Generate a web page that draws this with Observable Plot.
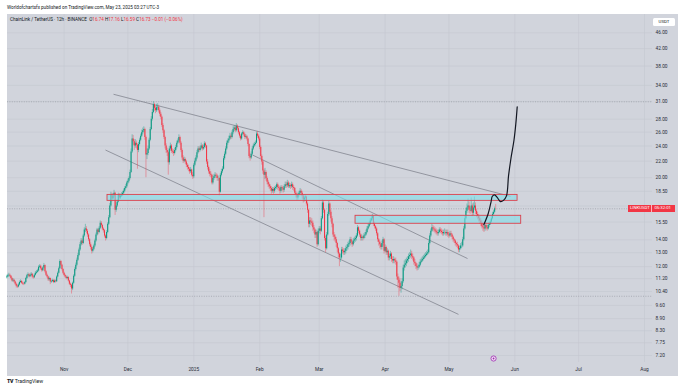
<!DOCTYPE html>
<html><head><meta charset="utf-8">
<script src="https://cdn.jsdelivr.net/npm/d3@7"></script>
<script src="https://cdn.jsdelivr.net/npm/@observablehq/plot@0.6"></script>
<style>
html,body{margin:0;padding:0;background:#fff;}
body{width:687px;height:387px;position:relative;overflow:hidden;font-family:Roboto,"Liberation Sans",sans-serif;color:#131722;}
#pub{position:absolute;left:7px;top:5px;font-size:4.6px;line-height:6px;white-space:nowrap;color:#131722;}
#chart{position:absolute;left:7px;top:14px;width:671px;height:362px;}
#legend{position:absolute;left:10px;top:17px;font-size:4.6px;line-height:6px;white-space:nowrap;color:#131722;}
#legend .red{color:#f23645;}
#usdt{position:absolute;left:653px;top:17.5px;width:22px;height:8.5px;background:#fff;border-radius:1.5px;font-size:4.4px;line-height:8.5px;text-align:center;color:#131722;}
#plabel{position:absolute;left:628px;width:47px;height:6.6px;background:#f23645;color:#fff;font-size:4.3px;line-height:6.6px;white-space:nowrap;display:flex;}
#plabel span{display:block;padding-left:2px;}
#plabel span+span{border-left:0.5px solid #ffb3ba;margin-left:1.5px;}
#foot{position:absolute;left:7px;top:378px;font-size:5.2px;line-height:7px;white-space:nowrap;color:#131722;}
#foot b{font-weight:900;letter-spacing:-0.3px;margin-right:1.5px;}
</style></head>
<body>
<div id="pub">Worldofchartsfx published on TradingView.com, May 23, 2025 03:27 UTC-3</div>
<div id="chart"></div>
<div id="legend"></div>
<div id="usdt">USDT</div>
<div id="plabel"></div>
<div id="foot"><b>TV</b>TradingView</div>
<script>
// ---------- data: 12h candles, LINK/USDT (BINANCE) ----------
const firstOpen = 11.25;
const closeOct = [11.30,11.38,11.42,11.35,11.20,11.05,11.10,10.98,10.85,10.72,
10.68,10.80,10.95,11.02,10.90,10.86,10.84,10.95,11.20,11.38,
11.45,11.32,11.40,11.48,11.30,11.25,11.42,11.55,11.62,11.70,
11.95,12.02,11.85,11.72,11.90,12.08,11.65,11.42,11.30,11.12,
11.20,10.98,11.02,11.08,10.96,11.05,11.00,11.30,11.55,11.85,
12.35,12.10,11.80,11.55];
const highOct = [11.42,11.48,11.55,11.50,11.40,11.28,11.20,11.16,11.04,10.92,
10.80,10.88,11.05,11.12,11.08,10.98,10.94,11.02,11.28,11.48,
11.58,11.52,11.50,11.60,11.54,11.38,11.50,11.66,11.74,11.82,
12.06,12.14,12.10,11.92,11.98,12.22,12.12,11.72,11.50,11.36,
11.30,11.24,11.10,11.16,11.14,11.12,11.12,11.38,11.64,11.96,
12.48,12.42,12.16,11.86];
const lowOct = [11.18,11.24,11.30,11.26,11.12,10.98,10.96,10.90,10.76,10.62,
10.58,10.62,10.74,10.90,10.84,10.78,10.76,10.80,10.90,11.14,
11.30,11.24,11.26,11.34,11.22,11.16,11.20,11.36,11.48,11.56,
11.64,11.88,11.76,11.62,11.66,11.84,11.56,11.34,11.22,11.02,
11.04,10.82,10.90,10.96,10.88,10.90,10.92,10.96,11.24,11.50,
11.80,12.00,11.70,11.46];

const closeNov = [11.40,11.30,11.20,11.28,11.05,10.85,10.78,10.55,10.90,11.35,
11.80,12.10,12.45,12.80,13.20,13.60,13.90,13.70,14.30,14.80,
14.90,14.70,14.40,14.00,13.60,13.40,13.10,13.25,13.50,13.90,
14.40,14.80,14.60,14.95,15.40,15.20,14.90,14.75,14.30,14.10,
14.60,15.30,15.90,17.00,18.10,17.70,18.00,18.30,16.60,17.00,
17.40,18.10,17.80,18.00,18.10,18.30,18.50,18.80,19.00,19.40];
const highNov = [11.62,11.48,11.38,11.36,11.32,11.10,10.92,10.84,10.98,11.45,
11.92,12.25,12.60,12.95,13.35,13.78,14.10,14.05,14.45,15.00,
15.30,15.10,14.85,14.50,14.10,13.75,13.50,13.40,13.65,14.05,
14.55,14.95,14.90,15.10,15.60,15.55,15.30,15.00,14.85,14.40,
14.75,15.45,16.10,17.25,18.40,18.30,18.25,18.60,18.40,17.30,
17.60,18.30,18.25,18.20,18.35,18.50,18.75,19.00,19.25,19.60];
const lowNov = [11.32,11.22,11.12,11.14,10.98,10.76,10.64,10.25,10.45,10.84,
11.28,11.70,12.00,12.36,12.70,13.10,13.50,13.55,13.62,14.20,
14.60,14.50,14.20,13.85,13.45,13.20,12.90,12.98,13.15,13.40,
13.80,14.30,14.40,14.50,14.85,15.05,14.75,14.55,14.15,13.90,
14.00,14.50,15.20,15.80,16.90,17.40,17.50,17.80,16.10,16.40,
16.85,17.30,17.60,17.65,17.85,17.95,18.15,18.35,18.65,18.85];

const closeDec = [19.60,19.90,20.60,23.20,25.00,24.60,24.00,24.40,24.10,23.40,
24.20,24.80,25.40,25.90,26.20,26.40,25.20,22.80,23.00,23.60,
24.80,26.40,28.00,29.10,30.40,29.80,29.40,29.90,30.00,29.40,
28.80,28.30,27.00,26.20,25.20,24.00,23.40,23.10,21.80,23.60,
24.00,23.30,23.20,23.00,23.40,23.80,24.40,24.70,25.20,24.40,
23.40,22.40,22.00,22.20,21.90,21.50,21.20,21.00,20.70,20.90,
20.30,20.10];
const highDec = [19.85,20.10,20.90,23.60,25.60,25.50,24.90,24.90,24.70,24.30,
24.50,25.10,25.70,26.30,26.60,26.80,26.60,25.40,23.60,24.00,
25.10,26.70,28.40,29.60,30.94,30.70,30.20,30.50,30.60,30.30,
29.70,29.10,28.50,27.30,26.40,25.40,24.30,23.70,23.30,23.90,
24.40,24.20,23.60,23.50,23.70,24.10,24.70,25.00,25.60,25.40,
24.60,23.60,22.70,22.50,22.40,22.10,21.70,21.50,21.20,21.20,
21.00,20.60];
const lowDec = [19.20,19.40,19.75,20.50,23.00,24.10,23.40,23.70,23.60,21.00,
23.10,24.00,24.60,25.20,25.60,25.90,24.80,20.00,22.20,22.70,
23.40,24.60,26.20,27.70,28.90,29.30,28.90,29.10,29.40,29.00,
28.40,27.90,26.70,25.80,24.90,23.60,23.00,22.60,20.30,21.50,
23.30,23.00,22.90,22.60,22.80,23.20,23.60,24.20,24.50,24.10,
23.10,22.10,21.70,21.80,21.60,21.20,20.90,20.70,20.40,20.50,
20.10,19.80];

const closeJan = [21.50,22.00,22.40,23.10,23.60,23.40,23.70,24.00,23.60,23.80,
24.30,24.00,21.90,21.20,20.70,20.40,20.30,19.40,19.90,20.10,
20.30,20.20,19.90,19.90,18.40,20.30,20.70,21.00,22.30,22.90,
23.60,24.40,24.70,25.00,25.40,25.20,25.90,26.40,26.60,26.20,
26.90,26.50,25.90,25.40,25.00,25.70,25.90,25.60,25.20,25.30,
25.00,24.20,22.60,22.40,22.90,23.60,24.00,24.20,24.40,25.70,
25.40,25.00];
const highJan = [21.70,22.30,22.70,23.40,23.90,23.90,24.00,24.40,24.20,24.10,
24.60,24.50,24.10,22.20,21.40,21.00,20.70,20.40,20.20,20.40,
20.60,20.50,20.40,20.20,20.00,20.50,21.00,21.30,22.60,23.20,
23.90,24.70,25.00,25.40,25.80,25.70,26.20,26.80,27.00,26.90,
27.30,27.10,26.70,26.10,25.60,25.90,26.20,26.10,25.80,25.60,
25.50,25.10,24.30,22.90,23.20,23.90,24.30,24.50,24.70,26.00,
26.10,25.60];
const lowJan = [19.90,21.30,21.80,22.20,22.90,23.10,23.20,23.50,23.30,23.40,
23.60,23.70,21.60,20.90,20.40,20.10,20.00,19.20,19.20,19.70,
19.90,19.90,19.60,19.60,18.00,18.30,20.10,20.50,20.90,22.10,
22.70,23.40,24.10,24.40,24.80,24.90,25.00,25.60,26.10,25.90,
26.00,26.20,25.60,25.10,24.70,24.80,25.50,25.30,24.90,25.00,
24.70,23.90,22.30,22.00,22.20,22.70,23.40,23.80,24.00,24.30,
25.10,24.70];

const closeFeb = [23.80,22.60,21.90,20.80,20.30,20.60,19.90,19.50,19.20,19.00,
18.80,18.50,18.70,18.50,18.80,18.90,19.20,18.90,18.80,18.50,
18.90,18.80,18.60,19.00,19.20,19.10,19.40,19.00,19.10,19.00,
19.20,18.90,18.80,18.30,18.10,17.80,18.10,18.30,18.50,18.30,
18.00,17.60,17.80,17.90,17.20,16.60,15.30,15.60,15.50,15.40,
15.00,14.80,14.40,14.60,13.60,14.70];
const highFeb = [25.20,24.00,22.80,22.10,21.00,21.10,20.80,20.10,19.70,19.40,
19.20,19.00,18.90,18.90,19.00,19.10,19.40,19.40,19.10,19.00,
19.10,19.10,19.00,19.20,19.50,19.50,19.70,19.60,19.40,19.30,
19.50,19.40,19.10,18.90,18.50,18.30,18.30,18.50,18.80,18.70,
18.50,18.10,18.00,18.10,18.00,17.40,16.70,15.90,15.90,15.80,
15.60,15.20,14.90,14.80,14.70,14.90];
const lowFeb = [23.50,22.30,21.50,20.40,15.90,19.80,19.60,19.20,18.90,18.70,
18.50,18.20,18.30,18.20,18.30,18.60,18.70,18.60,18.50,18.20,
18.30,18.50,18.30,18.40,18.80,18.80,18.90,18.80,18.80,18.70,
18.80,18.60,18.50,18.10,17.80,17.50,17.60,17.90,18.10,18.00,
17.70,17.30,17.40,17.50,17.00,16.30,15.00,15.00,15.20,15.10,
14.70,14.50,14.10,14.10,13.40,13.50];

const closeMar = [14.90,14.70,15.80,17.30,16.60,14.10,13.30,14.40,16.20,17.20,
16.40,15.80,15.30,14.40,14.20,14.00,13.70,13.30,12.90,12.60,
12.60,13.20,13.10,13.00,13.10,13.30,13.40,13.60,13.70,14.00,
13.80,13.60,13.90,14.00,14.10,14.30,15.00,14.70,14.40,14.10,
14.20,14.10,14.30,14.40,14.60,14.90,15.10,15.30,15.60,15.80,
16.00,15.30,15.10,14.90,14.50,14.00,13.80,13.60,13.40,13.70,
14.00,13.10];
const highMar = [15.10,15.10,16.00,17.60,17.50,16.70,14.30,14.60,16.40,17.50,
17.30,16.60,16.00,15.40,14.60,14.40,14.20,13.80,13.40,13.00,
12.90,13.40,13.40,13.30,13.30,13.50,13.60,13.80,13.90,14.20,
14.20,13.90,14.10,14.20,14.30,14.50,15.20,15.10,14.80,14.50,
14.40,14.30,14.50,14.60,14.80,15.10,15.30,15.50,15.80,16.00,
16.20,16.10,15.50,15.20,15.00,14.60,14.10,13.90,13.70,13.90,
14.20,14.10];
const lowMar = [14.50,14.40,14.60,15.70,16.30,13.90,13.00,13.20,14.30,16.00,
16.10,15.50,15.00,14.20,13.90,13.80,13.40,13.00,12.60,12.00,
12.30,12.50,12.90,12.80,12.80,12.90,13.10,13.20,13.40,13.50,
13.60,13.40,13.50,13.70,13.80,13.90,14.20,14.50,14.20,13.90,
13.90,13.90,14.00,14.10,14.30,14.50,14.80,15.00,15.20,15.50,
15.60,15.10,14.90,14.70,14.30,13.80,13.50,13.30,13.20,13.20,
13.50,12.90];

const closeApr = [13.40,13.00,13.10,12.60,12.70,12.90,12.50,12.40,12.50,12.40,
12.30,11.30,11.10,10.90,10.60,10.70,11.00,11.90,12.10,12.20,
12.40,12.50,12.70,12.80,12.90,12.70,12.60,12.30,12.20,12.00,
11.90,11.95,12.10,12.30,12.40,12.50,12.60,12.70,12.80,12.90,
13.00,13.70,14.30,14.70,15.00,14.90,14.80,14.70,14.60,14.50,
14.60,14.80,14.70,14.60,14.50,14.60,14.60,14.50,14.60,14.40];
const highApr = [13.60,13.50,13.30,13.20,12.90,13.10,13.00,12.70,12.70,12.60,
12.60,12.40,11.50,11.30,11.20,11.00,11.20,12.10,12.40,12.50,
12.60,12.70,12.90,13.00,13.20,13.10,12.90,12.70,12.50,12.30,
12.20,12.10,12.30,12.50,12.60,12.70,12.80,12.90,13.00,13.10,
13.20,13.90,14.50,14.90,15.30,15.20,15.10,15.00,14.90,14.80,
14.80,15.00,15.00,14.90,14.80,14.80,14.90,14.80,14.80,14.80];
const lowApr = [13.00,12.80,12.80,12.40,12.40,12.50,12.30,12.20,12.20,12.20,
12.10,11.10,10.60,10.12,10.40,10.30,10.50,10.90,11.70,11.90,
12.00,12.20,12.30,12.50,12.60,12.50,12.40,12.10,12.00,11.80,
11.70,11.75,11.85,12.00,12.20,12.30,12.40,12.50,12.60,12.70,
12.80,12.90,13.60,14.20,14.60,14.70,14.60,14.50,14.40,14.30,
14.30,14.50,14.50,14.40,14.30,14.30,14.40,14.30,14.30,14.20];

const closeMay = [14.30,14.50,14.40,14.20,14.00,13.90,13.70,13.60,13.50,13.20,
13.30,13.50,13.50,14.00,14.90,15.80,16.50,16.80,17.00,16.60,
16.50,17.00,16.30,16.80,17.00,16.50,16.20,16.00,15.80,15.60,
15.40,15.10,15.00,14.90,15.20,15.00,14.90,15.20,15.30,15.50,
15.80,16.20,16.40,16.74,16.73];
const highMay = [14.60,14.70,14.70,14.50,14.30,14.10,14.00,13.80,13.80,13.60,
13.50,13.70,13.80,14.20,15.10,16.00,16.80,17.20,17.70,17.40,
16.90,17.80,17.20,17.30,17.90,17.30,16.70,16.40,16.20,16.00,
15.80,15.60,15.30,15.20,15.40,15.40,15.20,15.40,15.50,15.70,
16.00,16.40,16.60,16.90,17.16];
const lowMay = [14.10,14.20,14.20,14.00,13.80,13.70,13.50,13.40,13.30,13.00,
13.00,13.20,13.30,13.40,13.90,14.80,15.70,16.30,16.60,16.30,
16.20,16.40,16.00,16.10,16.60,16.20,15.90,15.70,15.50,15.30,
15.10,14.90,14.70,14.60,14.70,14.80,14.70,14.80,15.00,15.20,
15.40,15.70,16.00,16.30,16.59];

// axes
const monthTicks = ["2024-11-01","2024-12-01","2025-01-01","2025-02-01","2025-03-01","2025-04-01","2025-05-01","2025-06-01","2025-07-01","2025-08-01"];
const monthLabels = ["Nov","Dec","2025","Feb","Mar","Apr","May","Jun","Jul","Aug"];
const priceTicks = [46,42,38,34,31,28,26,24,22,20,18.5,17,15.5,14,13,12,11.2,10.4,9.6,8.9,8.3,7.75,7.2];
const hiddenTickLabels = [17];   // covered by the last-price label

// drawings
const zoneX1 = ["2024-11-21T10:00Z","2025-03-18T02:00Z"];
const zoneX2 = ["2025-06-02T07:00Z","2025-06-04T00:00Z"];
const zoneLow = [17.51, 15.35];
const zoneHigh = [18.12, 16.07];

const lineX1 = ["2024-11-24T06:00Z","2024-11-20T11:00Z","2025-01-28T15:00Z"];
const lineY1 = [32.31, 23.45, 22.79];
const lineX2 = ["2025-05-29T23:00Z","2025-05-05T12:00Z","2025-05-09T18:00Z"];
const lineY2 = [17.97, 9.12, 12.57];

const projDates = ["2025-05-17T10:00Z","2025-05-19T11:00Z","2025-05-20T20:00Z","2025-05-21T09:00Z","2025-05-22T11:00Z","2025-05-23T21:00Z","2025-05-25T06:00Z","2025-05-26T16:00Z","2025-05-28T02:00Z","2025-05-29T01:00Z","2025-05-30T05:00Z","2025-05-31T15:00Z","2025-06-01T11:00Z","2025-06-02T03:00Z"];
const projPrices = [15.27,16.26,17.42,17.95,18.13,17.82,17.44,17.56,18.02,20.21,22.40,24.84,27.21,30.05];

const rangeLevels = [30.94, 10.12];   // visible high / low
const eventDates = ["2025-05-22T00:00Z"];

// ---------- build ----------
const monthC = [closeOct,closeNov,closeDec,closeJan,closeFeb,closeMar,closeApr,closeMay];
const monthH = [highOct,highNov,highDec,highJan,highFeb,highMar,highApr,highMay];
const monthL = [lowOct,lowNov,lowDec,lowJan,lowFeb,lowMar,lowApr,lowMay];
monthC.forEach((c, m) => {
  if (c.length !== monthH[m].length || c.length !== monthL[m].length)
    throw new Error("length mismatch month " + m + ": " + c.length + "/" + monthH[m].length + "/" + monthL[m].length);
});
const closes = monthC.flat(), highs = monthH.flat(), lows = monthL.flat();
const start = Date.UTC(2024, 9, 5);
const H12 = 12 * 3600 * 1000;
const candles = closes.map((c, i) => {
  const o = i ? closes[i - 1] : firstOpen;
  return {date: new Date(start + i * H12), open: o, close: c,
          high: Math.max(highs[i], o, c), low: Math.min(lows[i], o, c), up: c >= o};
});
const last = candles[candles.length - 1];

const zones = zoneX1.map((d, i) => ({x1: new Date(d), x2: new Date(zoneX2[i]), y1: zoneLow[i], y2: zoneHigh[i]}));
const lines = lineX1.map((d, i) => ({x1: new Date(d), y1: lineY1[i], x2: new Date(lineX2[i]), y2: lineY2[i]}));
const proj = projDates.map((d, i) => ({date: new Date(d), price: projPrices[i]}));
const events = eventDates.map(d => ({date: new Date(d)}));
const tickDates = monthTicks.map(d => new Date(d + "T00:00Z"));
const tickLabel = new Map(tickDates.map((d, i) => [+d, monthLabels[i]]));
const labelTicks = priceTicks.filter(t => !hiddenTickLabels.includes(t));

const UP = "#089981", DOWN = "#f23645", BG = "#d1d4dc", GRID = "#c5c8d0";

const chart = Plot.plot({
  width: 671, height: 362,
  marginLeft: 0, marginRight: 26, marginTop: 0, marginBottom: 14,
  style: {background: BG, fontSize: "4.8px", fontFamily: "Roboto, 'Liberation Sans', sans-serif", color: "#2a2e39", overflow: "visible"},
  x: {type: "utc", domain: [tickDates[0], tickDates[tickDates.length - 1]], range: [56.6, 637]},
  y: {type: "log", domain: [7.2, 46], range: [341, 18.3]},
  marks: [
    Plot.gridX(tickDates, {stroke: GRID, strokeOpacity: 1, strokeWidth: 0.6}),
    Plot.gridY(priceTicks, {stroke: GRID, strokeOpacity: 1, strokeWidth: 0.6}),
    Plot.ruleY(rangeLevels, {stroke: "#8f929b", strokeWidth: 0.6, strokeDasharray: "1,1.4"}),
    Plot.ruleY([last.close], {stroke: "#8f929b", strokeWidth: 0.6, strokeDasharray: "1,1.4"}),
    Plot.link(lines, {x1: "x1", y1: "y1", x2: "x2", y2: "y2", stroke: "#7d808b", strokeWidth: 0.75}),
    Plot.ruleX(candles, {x: "date", y1: "low", y2: "high", stroke: d => d.up ? UP : DOWN, strokeOpacity: 0.5, strokeWidth: 0.8}),
    Plot.ruleX(candles, {x: "date", y1: "open", y2: "close", stroke: d => d.up ? UP : DOWN, strokeWidth: 1.05}),
    Plot.rect(zones, {x1: "x1", x2: "x2", y1: "y1", y2: "y2", fill: "#80deea", fillOpacity: 0.6, stroke: "#dd3f4b", strokeWidth: 0.9}),
    Plot.line(proj, {x: "date", y: "price", curve: "catmull-rom", stroke: "#131722", strokeWidth: 1.2}),
    Plot.dot(events, {x: "date", frameAnchor: "bottom", dy: -4, r: 2.6, fill: "#f3e5f5", stroke: "#9c27b0", strokeWidth: 0.8}),
    Plot.dot(events, {x: "date", frameAnchor: "bottom", dy: -4, r: 0.9, fill: "#9c27b0"}),
    Plot.axisX(tickDates, {tickSize: 0, tickPadding: 5, tickFormat: d => tickLabel.get(+d), label: null}),
    Plot.axisY(labelTicks, {anchor: "right", tickSize: 0, tickPadding: 3, tickFormat: d => d.toFixed(2), label: null})
  ]
});
document.getElementById("chart").append(chart);

// legend (built from last candle)
const prev = candles[candles.length - 2];
const chg = last.close - prev.close;
const pct = chg / prev.close * 100;
const fmt = v => v.toFixed(2);
const sign = v => (v < 0 ? "\u2212" : "+") + Math.abs(v).toFixed(2);
document.getElementById("legend").innerHTML =
  "ChainLink / TetherUS \u00b7 12h \u00b7 BINANCE&nbsp;&nbsp;" +
  "O<span class='red'>" + fmt(last.open) + "</span> " +
  "H<span class='red'>" + fmt(last.high) + "</span> " +
  "L<span class='red'>" + fmt(last.low) + "</span> " +
  "C<span class='red'>" + fmt(last.close) + "</span> " +
  "<span class='red'>" + sign(chg) + " (" + sign(pct) + "%)</span>";

// last price label on the price scale
const yPix = chart.scale("y").apply(last.close);
const pl = document.getElementById("plabel");
pl.innerHTML = "<span>LINKUSDT</span><span>05:32:01</span>";
pl.style.top = (14 + yPix - 3.3) + "px";
</script>
</body></html>
